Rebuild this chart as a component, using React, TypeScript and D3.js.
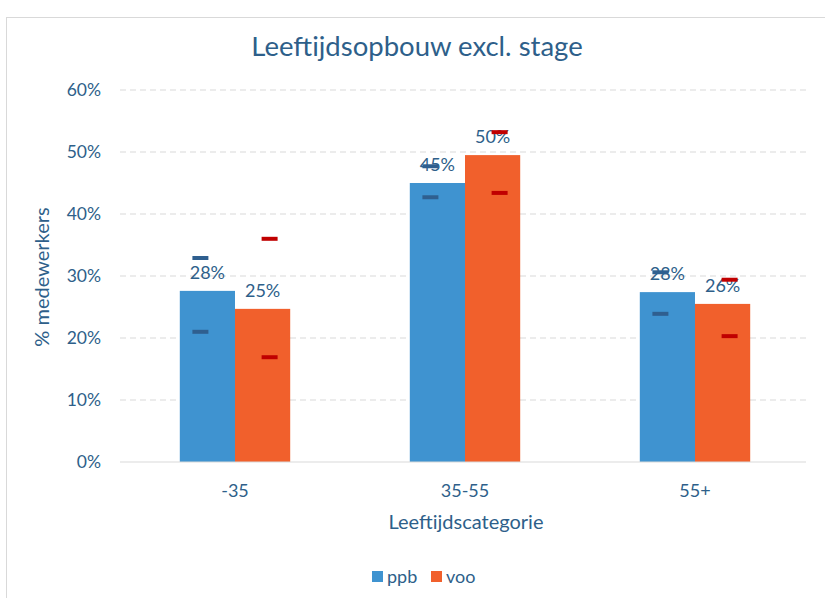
import React from "react";
import * as d3 from "d3";

const categories = ["-35", "35-55", "55+"];
const seriesNames = ["ppb", "voo"];
const ppbValues = [27.6, 45.0, 27.4];
const vooValues = [24.7, 49.5, 25.5];
const ppbLabels = ["28%", "45%", "28%"];
const vooLabels = ["25%", "50%", "26%"];
const ppbHigh = [32.9, 47.7, 30.6];
const ppbLow = [21.0, 42.7, 23.9];
const vooHigh = [36.0, 53.2, 29.4];
const vooLow = [16.9, 43.4, 20.3];
const yTicks = [0, 10, 20, 30, 40, 50, 60];

const W = 825;
const H = 598;
const FONT = "Lato, 'Noto Sans', sans-serif";
const TEXT = "#2E5F8A";
const COLORS = ["#3F93D0", "#F1602C"];
const MARK = ["#2F5F8F", "#C00000"];

export default function App() {
  const left = 120, right = 810, top = 90, bottom = 462;
  const x = d3.scaleBand<string>().domain(categories).range([left, right]).paddingInner(0.52).paddingOuter(0.26);
  const xs = d3.scaleBand<string>().domain(seriesNames).range([0, x.bandwidth()]);
  const y = d3.scaleLinear().domain([0, 60]).range([bottom, top]);
  const values = [ppbValues, vooValues];
  const labels = [ppbLabels, vooLabels];
  const highs = [ppbHigh, vooHigh];
  const lows = [ppbLow, vooLow];
  const offs = [-7, 7];

  return (
    <svg width={W} height={H} style={{ position: "absolute", left: 0, top: 0 }}>
      <rect x={0} y={0} width={W} height={H} fill="#fff" />
      <rect x={6.5} y={17.5} width={W + 10} height={H + 10} fill="none" stroke="#D9D9D9" />
      <text x={417} y={56} textAnchor="middle" fontFamily={FONT} fontSize={27.5} fill={TEXT}>
        Leeftijdsopbouw excl. stage
      </text>
      {yTicks.map((t) => (
        <g key={t}>
          {t > 0 && (
            <line x1={left} x2={right - 4} y1={y(t)} y2={y(t)} stroke="#D9D9D9" strokeDasharray="6,4" strokeWidth={1} />
          )}
          <text x={101} y={y(t) + 6} textAnchor="end" fontFamily={FONT} fontSize={17.5} fill={TEXT}>
            {t}%
          </text>
        </g>
      ))}
      <text
        transform={`translate(49,${(top + bottom) / 2 + 1}) rotate(-90)`}
        textAnchor="middle"
        fontFamily={FONT}
        fontSize={20}
        fill={TEXT}
      >
        % medewerkers
      </text>
      {categories.map((c, i) => (
        <g key={c}>
          {seriesNames.map((s, si) => {
            const bx = (x(c) as number) + (xs(s) as number);
            const bw = xs.bandwidth();
            const cx = bx + bw / 2;
            return (
              <g key={s}>
                <rect x={bx} y={y(values[si][i])} width={bw} height={bottom - y(values[si][i])} fill={COLORS[si]} />
                <text x={cx} y={y(values[si][i]) - 12} textAnchor="middle" fontFamily={FONT} fontSize={18} fill={TEXT}>
                  {labels[si][i]}
                </text>
                <line x1={cx + offs[si] - 8} x2={cx + offs[si] + 8} y1={y(highs[si][i])} y2={y(highs[si][i])} stroke={MARK[si]} strokeWidth={4} />
                <line x1={cx + offs[si] - 8} x2={cx + offs[si] + 8} y1={y(lows[si][i])} y2={y(lows[si][i])} stroke={MARK[si]} strokeWidth={4} />
              </g>
            );
          })}
          <text x={(x(c) as number) + x.bandwidth() / 2} y={497} textAnchor="middle" fontFamily={FONT} fontSize={18} fill={TEXT}>
            {c}
          </text>
        </g>
      ))}
      <line x1={left} x2={right - 4} y1={bottom} y2={bottom} stroke="#D9D9D9" strokeWidth={1} />
      <text x={466} y={529} textAnchor="middle" fontFamily={FONT} fontSize={20} fill={TEXT}>
        Leeftijdscategorie
      </text>
      {seriesNames.map((s, si) => (
        <g key={s} transform={`translate(${372 + si * 59},571)`}>
          <rect x={0} y={0} width={11} height={11} fill={COLORS[si]} />
          <text x={15} y={12} fontFamily={FONT} fontSize={18} fill={TEXT}>
            {s}
          </text>
        </g>
      ))}
    </svg>
  );
}
